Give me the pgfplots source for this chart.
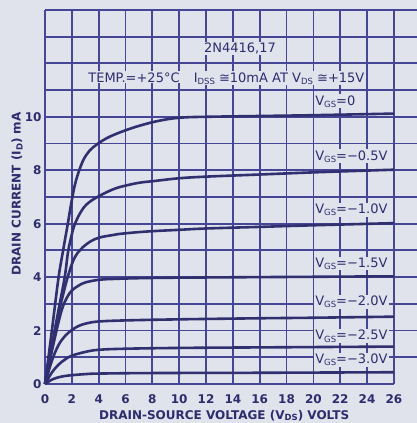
\documentclass[border=0pt]{standalone}
\usepackage{fontspec}
\setmainfont{DejaVu Sans}
\usepackage{pgfplots}
\pgfplotsset{compat=1.18}
\definecolor{bg}{RGB}{224,226,236}
\definecolor{gridc}{RGB}{70,70,150}
\definecolor{curve}{RGB}{48,48,112}
\definecolor{txt}{RGB}{45,45,110}
\newcommand\subs[1]{\raisebox{-0.3ex}{\fontsize{8.5}{8.5}\selectfont #1}}
\tikzset{lab/.style={fill=bg, inner sep=1pt, text=txt, font=\fontsize{13}{13}\selectfont}}

\pgfplotstableread{
x y
0 0
0.5 1.95
1.0 3.95
1.35 5.0
1.7 6.0
1.97 6.8
2.3 7.6
2.8 8.32
3.3 8.72
3.9 8.98
4.6 9.2
5.3 9.36
6.2 9.53
7 9.66
8.2 9.82
9.4 9.93
10.5 9.98
12 10.0
16 10.03
20 10.06
26 10.12
}\vzero
\pgfplotstableread{
x y
0 0
0.5 1.4
1.0 2.75
1.47 4.0
1.72 4.95
2.0 5.6
2.2 5.95
2.6 6.38
3.1 6.72
3.9 7.0
5.0 7.27
5.8 7.4
7 7.53
8.2 7.6
10 7.7
12 7.76
16 7.84
20 7.92
26 8.02
}\vhalf
\pgfplotstableread{
x y
0 0
0.5 1.35
1.0 2.6
1.4 3.45
1.72 4.05
2.09 4.6
2.45 4.92
2.82 5.12
3.4 5.34
4.05 5.48
5 5.57
5.8 5.63
7.7 5.71
10 5.77
12 5.82
16 5.88
20 5.94
26 6.02
}\vone
\pgfplotstableread{
x y
0 0
0.5 1.2
1.0 2.3
1.3 2.85
1.65 3.25
2.0 3.5
2.5 3.68
3 3.8
4 3.9
5 3.93
7 3.96
10 3.98
16 4.0
26 4.03
}\vonehalf
\pgfplotstableread{
x y
0 0
0.5 0.85
1.0 1.45
1.5 1.8
2.0 2.02
2.5 2.17
3.1 2.27
4 2.34
6 2.38
10 2.42
16 2.46
20 2.48
26 2.52
}\vtwo
\pgfplotstableread{
x y
0 0
0.5 0.42
1 0.72
1.5 0.92
2 1.06
3 1.2
4 1.28
6 1.32
10 1.35
16 1.37
26 1.4
}\vtwohalf
\pgfplotstableread{
x y
0 0
0.5 0.16
1 0.25
1.5 0.3
2 0.33
3 0.37
4 0.39
8 0.41
16 0.42
26 0.44
}\vthree

\begin{document}
\begin{tikzpicture}
\fill[bg] (-45pt,-39pt) rectangle (372pt,384pt);
\path[use as bounding box] (-45pt,-39pt) rectangle (372pt,384pt);
\begin{axis}[
 at={(0pt,0pt)}, anchor=south west,
 x=13.42pt, y=26.72pt,
 xmin=0, xmax=27.72, ymin=0, ymax=14,
 axis line style={draw=none},
 xtick={0,2,...,26},
 ytick={2,4,6,8,10},
 minor ytick={1,3,5,7,9,11,12,13,14},
 extra y ticks={0}, extra y tick style={grid=none},
 grid=both,
 major grid style={gridc, line width=1.8pt},
 minor grid style={gridc, line width=1.8pt},
 major tick length=0pt, minor tick length=0pt,
 tick style={draw=none},
 ticklabel style={font=\fontsize{12}{12}\selectfont\bfseries, text=txt},
 /pgf/number format/assume math mode=true,
 xticklabel style={anchor=base, yshift=-19pt},
 clip=false,
]
\draw[gridc, line width=1.8pt] (axis cs:0,0) -- (axis cs:26,0);
\addplot[curve, line width=2.6pt, smooth, tension=0.6] table {\vzero};
\addplot[curve, line width=2.6pt, smooth, tension=0.6] table {\vhalf};
\addplot[curve, line width=2.6pt, smooth, tension=0.6] table {\vone};
\addplot[curve, line width=2.6pt, smooth, tension=0.6] table {\vonehalf};
\addplot[curve, line width=2.6pt, smooth, tension=0.6] table {\vtwo};
\addplot[curve, line width=2.6pt, smooth, tension=0.6] table {\vtwohalf};
\addplot[curve, line width=2.6pt, smooth, tension=0.6] table {\vthree};

\node[lab, anchor=base] at (axis cs:14.53,12.39) {2N4416,17};
\node[lab, anchor=base] at (axis cs:6.63,11.30) {TEMP.=+25°C};
\node[lab, anchor=base] at (axis cs:17.44,11.30) {I\subs{DSS} ≅10mA AT V\subs{DS} ≅+15V};
\node[lab, anchor=base west] at (axis cs:20.05,10.44) {V\subs{GS}=0};
\node[lab, anchor=base west] at (axis cs:20.05,8.38) {V\subs{GS}=−0.5V};
\node[lab, anchor=base west] at (axis cs:20.05,6.39) {V\subs{GS}=−1.0V};
\node[lab, anchor=base west] at (axis cs:20.05,4.37) {V\subs{GS}=−1.5V};
\node[lab, anchor=base west] at (axis cs:20.05,2.93) {V\subs{GS}=−2.0V};
\node[lab, anchor=base west] at (axis cs:20.05,1.65) {V\subs{GS}=−2.5V};
\node[lab, anchor=base west] at (axis cs:20.05,0.77) {V\subs{GS}=−3.0V};

\node[anchor=base, text=txt, font=\fontsize{12}{12}\selectfont\bfseries] at ([yshift=-35pt]axis cs:13.35,0) {DRAIN-SOURCE VOLTAGE (V\subs{\bfseries DS}) VOLTS};
\node[anchor=base, rotate=90, text=txt, font=\fontsize{12}{12}\selectfont\bfseries] at ([xshift=-24.3pt]axis cs:0,7.11) {DRAIN CURRENT (I\subs{\bfseries D}) mA};
\end{axis}
\end{tikzpicture}
\end{document}
